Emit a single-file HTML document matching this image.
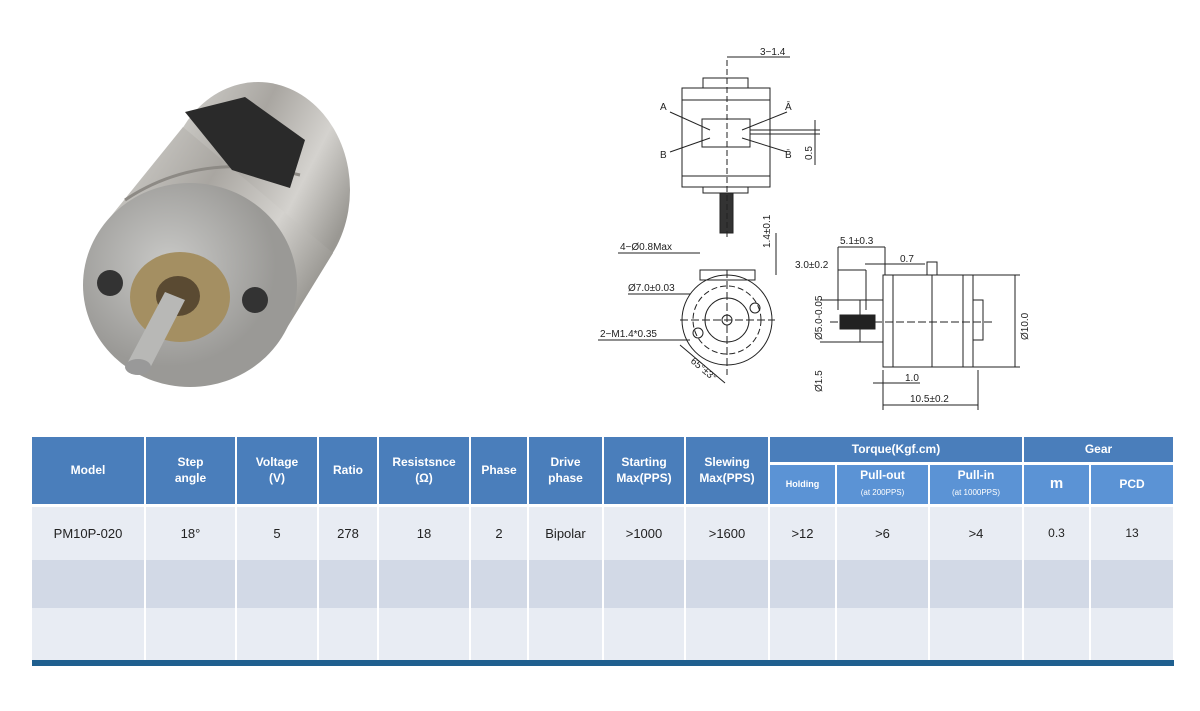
<!DOCTYPE html>
<html><head><meta charset="utf-8"><style>
body{margin:0;width:1200px;height:711px;background:#fff;position:relative;overflow:hidden;font-family:"Liberation Sans",sans-serif}
table{position:absolute;left:32px;top:437px;border-collapse:collapse;table-layout:fixed;width:1142px}
td,th{text-align:center;border-right:2px solid #fff;padding:0;font-family:"Liberation Sans",sans-serif}
th{background:#4a7ebb;color:#fff;font-size:12px;font-weight:bold;line-height:16px}
th.s{background:#5b93d5}
td{color:#222;font-size:13px}
.r1 td{background:#e8ecf3;height:53px}
.r2 td{background:#d2d9e6;height:48px}
.r3 td{background:#e8ecf3;height:52px}
.bar{position:absolute;left:32px;top:660px;width:1142px;height:6px;background:#1f5f8f}
</style></head><body>
<svg width="1200" height="430" style="position:absolute;left:0;top:0">
<defs>
<linearGradient id="bd" x1="0" y1="0" x2="1" y2="0.6"><stop offset="0" stop-color="#d8d7d3"/><stop offset=".45" stop-color="#a9a6a1"/><stop offset=".75" stop-color="#d4d2ce"/><stop offset="1" stop-color="#9a9893"/></linearGradient>
<radialGradient id="fc" cx=".4" cy=".4"><stop offset="0" stop-color="#c9c9c7"/><stop offset="1" stop-color="#9a9996"/></radialGradient>
</defs>
<ellipse cx="258" cy="190" rx="92" ry="108" fill="url(#bd)"/>
<polygon points="103,226 183,127 333,253 277,344" fill="url(#bd)"/>
<path d="M125 200 Q200 150 300 175" stroke="#8d8a85" stroke-width="3" fill="none"/>
<path d="M185 112 L245 97 L305 140 L290 188 L232 170 Z" fill="#2a2a2a"/>
<ellipse cx="190" cy="285" rx="107" ry="102" fill="url(#fc)"/>
<ellipse cx="180" cy="297" rx="50" ry="45" fill="#a48f62"/>
<ellipse cx="178" cy="296" rx="22" ry="20" fill="#5a4a32"/>
<ellipse cx="110" cy="283" rx="13" ry="13" fill="#333"/>
<ellipse cx="255" cy="300" rx="13" ry="13" fill="#333"/>
<path d="M165 292 L185 300 L148 372 L128 362 Z" fill="#b8b8b6"/>
<ellipse cx="138" cy="367" rx="13" ry="8" fill="#999"/>
<g stroke="#222" fill="none" stroke-width="1">
<rect x="682" y="88" width="88" height="99"/><rect x="703" y="78" width="45" height="10"/><rect x="703" y="187" width="45" height="6"/>
<line x1="682" y1="100" x2="770" y2="100"/><line x1="682" y1="176" x2="770" y2="176"/>
<rect x="702" y="119" width="48" height="28"/>
<rect x="720" y="193" width="13" height="40" fill="#333"/>
<line x1="727" y1="60" x2="727" y2="240" stroke-dasharray="6 3"/>
<line x1="727" y1="57" x2="760" y2="57"/><line x1="760" y1="57" x2="790" y2="57"/>
<line x1="670" y1="112" x2="710" y2="130"/><line x1="670" y1="152" x2="710" y2="138"/><line x1="787" y1="112" x2="742" y2="130"/><line x1="787" y1="152" x2="742" y2="138"/>
<line x1="750" y1="130" x2="820" y2="130"/><line x1="750" y1="134" x2="820" y2="134"/><line x1="815" y1="120" x2="815" y2="165"/>
<circle cx="727" cy="320" r="45"/><circle cx="727" cy="320" r="22"/><circle cx="727" cy="320" r="34" stroke-dasharray="6 3"/>
<circle cx="727" cy="320" r="5"/><circle cx="755" cy="308" r="5"/><circle cx="698" cy="333" r="5"/>
<rect x="700" y="270" width="55" height="10"/>
<line x1="680" y1="320" x2="775" y2="320" stroke-dasharray="8 3"/><line x1="727" y1="270" x2="727" y2="375" stroke-dasharray="8 3"/>
<line x1="618" y1="253" x2="700" y2="253"/><line x1="628" y1="294" x2="690" y2="294"/><line x1="598" y1="340" x2="690" y2="340"/>
<line x1="680" y1="345" x2="725" y2="383"/><line x1="776" y1="233" x2="776" y2="275"/>
<rect x="883" y="275" width="90" height="92"/><line x1="893" y1="275" x2="893" y2="367"/><line x1="963" y1="275" x2="963" y2="367"/>
<rect x="860" y="300" width="23" height="42"/><rect x="973" y="300" width="10" height="40"/>
<rect x="840" y="315" width="35" height="14" fill="#222"/>
<rect x="927" y="262" width="10" height="13"/><line x1="932" y1="275" x2="932" y2="367"/>
<line x1="830" y1="322" x2="995" y2="322" stroke-dasharray="8 3"/>
<line x1="838" y1="247" x2="885" y2="247"/><line x1="838" y1="247" x2="838" y2="310"/><line x1="885" y1="247" x2="885" y2="275"/>
<line x1="838" y1="270" x2="866" y2="270"/><line x1="866" y1="270" x2="866" y2="310"/>
<line x1="865" y1="264" x2="925" y2="264"/>
<line x1="1015" y1="275" x2="1015" y2="367"/><line x1="973" y1="275" x2="1020" y2="275"/><line x1="973" y1="367" x2="1020" y2="367"/>
<line x1="873" y1="383" x2="920" y2="383"/><line x1="883" y1="405" x2="978" y2="405"/><line x1="883" y1="370" x2="883" y2="410"/><line x1="978" y1="370" x2="978" y2="410"/>
<line x1="820" y1="300" x2="860" y2="300"/><line x1="820" y1="342" x2="860" y2="342"/>
</g>
<g font-size="10" fill="#222" font-family="Liberation Sans,sans-serif">
<text x="760" y="55">3−1.4</text><text x="660" y="110">A</text><text x="660" y="158">B</text><text x="785" y="110">Ā</text><text x="785" y="158">B̄</text>
<text x="620" y="250">4−Ø0.8Max</text><text x="628" y="291">Ø7.0±0.03</text><text x="600" y="337">2−M1.4*0.35</text>
<text x="840" y="244">5.1±0.3</text><text x="795" y="268">3.0±0.2</text><text x="900" y="262">0.7</text>
<text x="905" y="381">1.0</text><text x="910" y="402">10.5±0.2</text>
<text transform="translate(770,248) rotate(-90)">1.4±0.1</text><text transform="translate(812,160) rotate(-90)">0.5</text>
<text transform="translate(1028,340) rotate(-90)">Ø10.0</text><text transform="translate(822,340) rotate(-90)">Ø5.0-0.05</text>
<text transform="translate(822,392) rotate(-90)">Ø1.5</text>
<text transform="translate(690,362) rotate(40)">65°±3°</text>
</g>
</svg>
<table>
<colgroup><col style="width:113px"><col style="width:91px"><col style="width:82px"><col style="width:60px"><col style="width:92px"><col style="width:58px"><col style="width:75px"><col style="width:82px"><col style="width:84px"><col style="width:67px"><col style="width:93px"><col style="width:94px"><col style="width:67px"><col style="width:84px"></colgroup>
<tr style="height:26px"><th rowspan="2">Model</th><th rowspan="2">Step<br>angle</th><th rowspan="2">Voltage<br>(V)</th><th rowspan="2">Ratio</th><th rowspan="2">Resistsnce<br>(Ω)</th><th rowspan="2">Phase</th><th rowspan="2">Drive<br>phase</th><th rowspan="2">Starting<br>Max(PPS)</th><th rowspan="2">Slewing<br>Max(PPS)</th><th colspan="3" style="border-bottom:3px solid #fff">Torque(Kgf.cm)</th><th colspan="2" style="border-bottom:3px solid #fff">Gear</th></tr>
<tr style="height:42px"><th class="s" style="font-size:9px">Holding</th><th class="s">Pull-out<br><span style="font-size:8px;font-weight:normal">(at 200PPS)</span></th><th class="s">Pull-in<br><span style="font-size:8px;font-weight:normal">(at 1000PPS)</span></th><th class="s" style="font-size:15px">m</th><th class="s">PCD</th></tr>
<tr class="r1" style="border-top:3px solid #fff"><td>PM10P-020</td><td>18°</td><td>5</td><td>278</td><td>18</td><td>2</td><td>Bipolar</td><td>&gt;1000</td><td>&gt;1600</td><td>&gt;12</td><td>&gt;6</td><td>&gt;4</td><td style="font-size:12px">0.3</td><td style="font-size:12px">13</td></tr>
<tr class="r2"><td></td><td></td><td></td><td></td><td></td><td></td><td></td><td></td><td></td><td></td><td></td><td></td><td></td><td></td></tr>
<tr class="r3"><td></td><td></td><td></td><td></td><td></td><td></td><td></td><td></td><td></td><td></td><td></td><td></td><td></td><td></td></tr>
</table>
<div class="bar"></div>
</body></html>
